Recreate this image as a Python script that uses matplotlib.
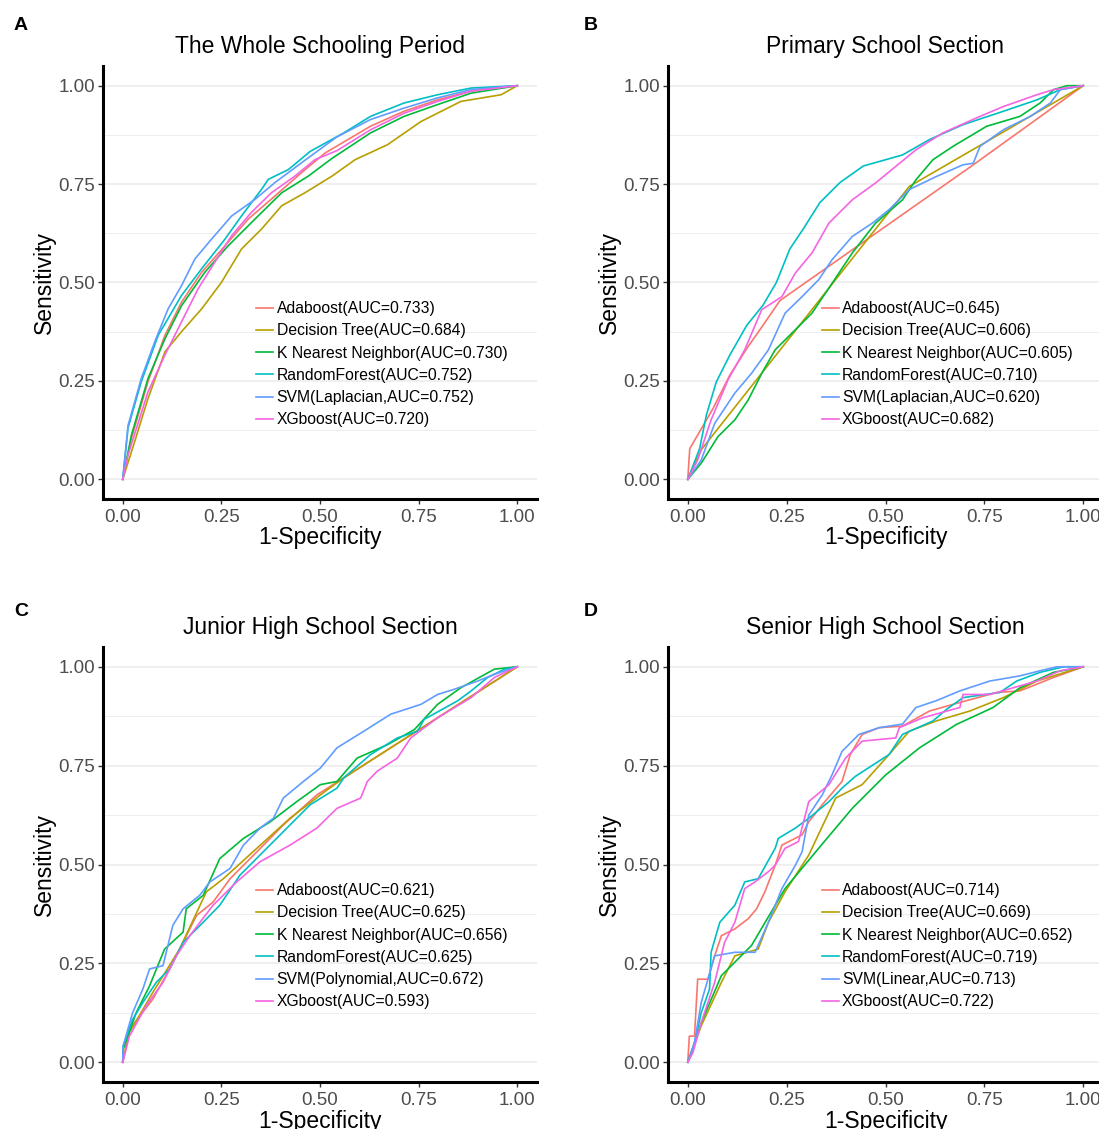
import matplotlib
matplotlib.use("Agg")
import matplotlib.pyplot as plt
import numpy as np

plt.rcParams['font.family'] = ['Liberation Sans', 'DejaVu Sans']

colors = ["#F8766D", "#B79F00", "#00BA38", "#00BFC4", "#619CFF", "#F564E3"]

# ---- panel A : whole schooling period ----
A_labels = ["Adaboost(AUC=0.733)", "Decision Tree(AUC=0.684)", "K Nearest Neighbor(AUC=0.730)",
            "RandomForest(AUC=0.752)", "SVM(Laplacian,AUC=0.752)", "XGboost(AUC=0.720)"]
A_ada_x = [0, 0.022, 0.064, 0.107, 0.149, 0.200, 0.259, 0.318, 0.386, 0.453, 0.513, 0.628, 0.713, 0.798, 0.883, 1]
A_ada_y = [0, 0.104, 0.248, 0.366, 0.450, 0.526, 0.593, 0.661, 0.720, 0.779, 0.829, 0.897, 0.935, 0.964, 0.986, 1]
A_dt_x = [0, 0.030, 0.064, 0.107, 0.149, 0.200, 0.250, 0.301, 0.352, 0.403, 0.462, 0.530, 0.589, 0.671, 0.756,
          0.857, 0.959, 1]
A_dt_y = [0, 0.095, 0.205, 0.324, 0.375, 0.433, 0.500, 0.585, 0.636, 0.695, 0.728, 0.770, 0.812, 0.850, 0.909,
          0.960, 0.977, 1]
A_knn_x = [0, 0.022, 0.064, 0.107, 0.149, 0.208, 0.267, 0.335, 0.403, 0.470, 0.530, 0.628, 0.713, 0.798, 0.883, 1]
A_knn_y = [0, 0.112, 0.256, 0.357, 0.441, 0.526, 0.593, 0.661, 0.728, 0.770, 0.815, 0.880, 0.922, 0.952, 0.981, 1]
A_rf_x = [0, 0.0135, 0.047, 0.090, 0.149, 0.200, 0.259, 0.301, 0.352, 0.369, 0.420, 0.475, 0.560, 0.628, 0.713,
          0.798, 0.883, 1]
A_rf_y = [0, 0.131, 0.248, 0.366, 0.467, 0.535, 0.610, 0.669, 0.737, 0.762, 0.787, 0.833, 0.880, 0.922, 0.956,
          0.977, 0.994, 1]
A_svm_x = [0, 0.0135, 0.047, 0.081, 0.115, 0.149, 0.183, 0.225, 0.276, 0.335, 0.386, 0.453, 0.543, 0.628, 0.713,
           0.798, 0.883, 1]
A_svm_y = [0, 0.137, 0.256, 0.349, 0.433, 0.492, 0.560, 0.610, 0.669, 0.711, 0.754, 0.804, 0.870, 0.914, 0.943,
           0.969, 0.990, 1]
A_xgb_x = [0, 0.0135, 0.064, 0.107, 0.149, 0.191, 0.233, 0.276, 0.326, 0.377, 0.436, 0.487, 0.543, 0.628, 0.713,
           0.798, 0.883, 1]
A_xgb_y = [0, 0.062, 0.222, 0.316, 0.400, 0.484, 0.551, 0.619, 0.678, 0.728, 0.770, 0.812, 0.835, 0.888, 0.930,
           0.960, 0.986, 1]

# ---- panel B : primary school ----
B_labels = ["Adaboost(AUC=0.645)", "Decision Tree(AUC=0.606)", "K Nearest Neighbor(AUC=0.605)",
            "RandomForest(AUC=0.710)", "SVM(Laplacian,AUC=0.620)", "XGboost(AUC=0.682)"]
B_ada_x = [0, 0.005, 0.030, 0.064, 0.106, 0.149, 0.190, 0.233, 0.722, 1]
B_ada_y = [0, 0.078, 0.121, 0.180, 0.264, 0.332, 0.391, 0.454, 0.799, 1]
B_dt_x = [0, 0.034, 0.560, 1]
B_dt_y = [0, 0.075, 0.744, 1]
B_knn_x = [0, 0.034, 0.076, 0.119, 0.153, 0.187, 0.221, 0.263, 0.314, 0.365, 0.416, 0.475, 0.543, 0.577, 0.620,
           0.671, 0.756, 0.840, 0.891, 0.925, 0.959, 1]
B_knn_y = [0, 0.041, 0.108, 0.151, 0.202, 0.269, 0.329, 0.371, 0.422, 0.498, 0.575, 0.651, 0.710, 0.761, 0.812,
           0.846, 0.897, 0.922, 0.956, 0.990, 1, 1]
B_rf_x = [0, 0.030, 0.047, 0.072, 0.106, 0.149, 0.190, 0.224, 0.258, 0.292, 0.334, 0.385, 0.444, 0.543, 0.611,
          0.696, 0.798, 0.883, 0.942, 1]
B_rf_y = [0, 0.078, 0.163, 0.247, 0.315, 0.391, 0.442, 0.500, 0.585, 0.636, 0.703, 0.754, 0.796, 0.824, 0.863,
          0.901, 0.935, 0.964, 0.990, 1]
B_svm_x = [0, 0.034, 0.068, 0.119, 0.161, 0.204, 0.246, 0.289, 0.331, 0.365, 0.416, 0.467, 0.509, 0.560, 0.628,
           0.696, 0.722, 0.739, 0.798, 0.866, 0.917, 0.942, 1]
B_svm_y = [0, 0.049, 0.142, 0.219, 0.269, 0.329, 0.422, 0.464, 0.507, 0.558, 0.617, 0.651, 0.685, 0.736, 0.769,
           0.799, 0.803, 0.846, 0.888, 0.922, 0.956, 0.990, 1]
B_xgb_x = [0, 0.025, 0.059, 0.102, 0.144, 0.187, 0.238, 0.272, 0.314, 0.357, 0.416, 0.475, 0.526, 0.577, 0.645,
           0.730, 0.798, 0.883, 0.925, 1]
B_xgb_y = [0, 0.049, 0.151, 0.253, 0.329, 0.431, 0.464, 0.524, 0.575, 0.651, 0.710, 0.753, 0.795, 0.837, 0.880,
           0.918, 0.947, 0.977, 0.990, 1]

# ---- panel C : junior high school ----
C_labels = ["Adaboost(AUC=0.621)", "Decision Tree(AUC=0.625)", "K Nearest Neighbor(AUC=0.656)",
            "RandomForest(AUC=0.625)", "SVM(Polynomial,AUC=0.672)", "XGboost(AUC=0.593)"]
C_ada_x = [0, 0.017, 0.076, 0.119, 0.187, 0.229, 0.272, 0.340, 0.407, 0.492, 0.560, 1]
C_ada_y = [0, 0.083, 0.159, 0.236, 0.371, 0.405, 0.464, 0.532, 0.600, 0.676, 0.719, 1]
C_dt_x = [0, 0.017, 0.076, 0.144, 0.212, 0.255, 0.340, 0.424, 0.501, 0.560, 1]
C_dt_y = [0, 0.075, 0.176, 0.286, 0.431, 0.464, 0.541, 0.617, 0.676, 0.719, 1]
C_knn_x = [0, 0.001, 0.034, 0.068, 0.106, 0.153, 0.161, 0.204, 0.246, 0.306, 0.374, 0.441, 0.501, 0.543, 0.594,
           0.671, 0.739, 0.798, 0.857, 0.942, 1]
C_knn_y = [0, 0.032, 0.125, 0.193, 0.286, 0.329, 0.388, 0.422, 0.515, 0.566, 0.608, 0.659, 0.702, 0.710, 0.769,
           0.803, 0.841, 0.905, 0.947, 0.994, 1]
C_rf_x = [0, 0.001, 0.025, 0.051, 0.085, 0.119, 0.153, 0.204, 0.246, 0.297, 0.348, 0.416, 0.475, 0.543, 0.560,
          0.628, 0.696, 0.747, 0.764, 0.849, 0.883, 0.925, 0.968, 1]
C_rf_y = [0, 0.041, 0.108, 0.151, 0.202, 0.236, 0.303, 0.354, 0.397, 0.473, 0.524, 0.592, 0.651, 0.693, 0.719,
          0.778, 0.820, 0.837, 0.867, 0.914, 0.939, 0.973, 0.994, 1]
C_svm_x = [0, 0.001, 0.025, 0.051, 0.068, 0.102, 0.127, 0.153, 0.195, 0.221, 0.272, 0.306, 0.348, 0.382, 0.407,
           0.458, 0.501, 0.543, 0.611, 0.679, 0.756, 0.798, 0.840, 0.900, 0.942, 1]
C_svm_y = [0, 0.041, 0.125, 0.185, 0.236, 0.244, 0.346, 0.388, 0.422, 0.456, 0.490, 0.549, 0.592, 0.617, 0.668,
           0.710, 0.744, 0.795, 0.837, 0.880, 0.905, 0.930, 0.943, 0.964, 0.981, 1]
C_xgb_x = [0, 0.017, 0.059, 0.102, 0.136, 0.170, 0.229, 0.289, 0.348, 0.424, 0.492, 0.543, 0.603, 0.620, 0.645,
           0.696, 0.730, 0.798, 0.883, 0.942, 1]
C_xgb_y = [0, 0.066, 0.142, 0.202, 0.269, 0.320, 0.397, 0.456, 0.507, 0.549, 0.592, 0.642, 0.668, 0.710, 0.736,
           0.769, 0.820, 0.871, 0.922, 0.973, 1]

# ---- panel D : senior high school ----
D_labels = ["Adaboost(AUC=0.714)", "Decision Tree(AUC=0.669)", "K Nearest Neighbor(AUC=0.652)",
            "RandomForest(AUC=0.719)", "SVM(Linear,AUC=0.713)", "XGboost(AUC=0.722)"]
D_ada_x = [0, 0.004, 0.017, 0.025, 0.051, 0.068, 0.085, 0.119, 0.153, 0.174, 0.195, 0.221, 0.238, 0.289, 0.306,
           0.340, 0.390, 0.411, 0.441, 0.484, 0.543, 0.611, 0.671, 0.781, 0.840, 0.925, 1]
D_ada_y = [0, 0.066, 0.066, 0.210, 0.210, 0.269, 0.320, 0.337, 0.363, 0.388, 0.431, 0.498, 0.549, 0.575, 0.608,
           0.651, 0.710, 0.778, 0.829, 0.846, 0.850, 0.888, 0.905, 0.935, 0.939, 0.973, 1]
D_dt_x = [0, 0.034, 0.085, 0.119, 0.178, 0.204, 0.246, 0.306, 0.374, 0.441, 0.501, 0.560, 0.628, 0.713, 0.798,
          0.883, 1]
D_dt_y = [0, 0.092, 0.202, 0.269, 0.286, 0.354, 0.431, 0.524, 0.668, 0.702, 0.769, 0.837, 0.863, 0.888, 0.922,
          0.964, 1]
D_knn_x = [0, 0.034, 0.085, 0.161, 0.246, 0.331, 0.416, 0.501, 0.586, 0.679, 0.772, 0.840, 0.925, 1]
D_knn_y = [0, 0.100, 0.219, 0.295, 0.439, 0.541, 0.642, 0.727, 0.795, 0.854, 0.897, 0.947, 0.986, 1]
D_rf_x = [0, 0.013, 0.034, 0.055, 0.059, 0.081, 0.119, 0.144, 0.178, 0.221, 0.229, 0.272, 0.306, 0.357, 0.390,
          0.424, 0.509, 0.543, 0.620, 0.654, 0.696, 0.789, 0.832, 0.891, 0.951, 1]
D_rf_y = [0, 0.032, 0.125, 0.185, 0.278, 0.354, 0.397, 0.456, 0.464, 0.541, 0.566, 0.592, 0.617, 0.659, 0.693,
          0.723, 0.778, 0.829, 0.863, 0.892, 0.922, 0.935, 0.964, 0.986, 1, 1]
D_svm_x = [0, 0.017, 0.034, 0.068, 0.119, 0.170, 0.204, 0.238, 0.272, 0.289, 0.306, 0.340, 0.365, 0.390, 0.433,
           0.484, 0.543, 0.577, 0.628, 0.688, 0.764, 0.840, 0.891, 0.934, 1]
D_svm_y = [0, 0.049, 0.151, 0.269, 0.278, 0.278, 0.354, 0.439, 0.498, 0.532, 0.625, 0.676, 0.727, 0.786, 0.829,
           0.846, 0.855, 0.897, 0.914, 0.939, 0.964, 0.977, 0.990, 1, 1]
D_xgb_x = [0, 0.013, 0.034, 0.068, 0.093, 0.119, 0.144, 0.170, 0.204, 0.221, 0.246, 0.280, 0.306, 0.357, 0.399,
           0.441, 0.526, 0.535, 0.594, 0.688, 0.696, 0.764, 0.883, 0.942, 1]
D_xgb_y = [0, 0.024, 0.100, 0.202, 0.303, 0.354, 0.439, 0.456, 0.482, 0.498, 0.541, 0.558, 0.659, 0.702, 0.769,
           0.812, 0.820, 0.846, 0.871, 0.897, 0.930, 0.930, 0.964, 0.990, 1]

panels = [
    ("A", "The Whole Schooling Period", A_labels,
     [(A_ada_x, A_ada_y), (A_dt_x, A_dt_y), (A_knn_x, A_knn_y), (A_rf_x, A_rf_y), (A_svm_x, A_svm_y), (A_xgb_x, A_xgb_y)]),
    ("B", "Primary School Section", B_labels,
     [(B_ada_x, B_ada_y), (B_dt_x, B_dt_y), (B_knn_x, B_knn_y), (B_rf_x, B_rf_y), (B_svm_x, B_svm_y), (B_xgb_x, B_xgb_y)]),
    ("C", "Junior High School Section", C_labels,
     [(C_ada_x, C_ada_y), (C_dt_x, C_dt_y), (C_knn_x, C_knn_y), (C_rf_x, C_rf_y), (C_svm_x, C_svm_y), (C_xgb_x, C_xgb_y)]),
    ("D", "Senior High School Section", D_labels,
     [(D_ada_x, D_ada_y), (D_dt_x, D_dt_y), (D_knn_x, D_knn_y), (D_rf_x, D_rf_y), (D_svm_x, D_svm_y), (D_xgb_x, D_xgb_y)]),
]

W, H = 1099, 1129
fig = plt.figure(figsize=(W / 100, H / 100), dpi=100)

# axes boxes in pixels: left, top, right, bottom
boxes = [(103, 66, 537, 499), (668, 66, 1103, 499), (103, 647, 537, 1082), (668, 647, 1103, 1082)]
letter_pos = [(21, 25), (591, 25), (21, 612), (591, 612)]

ticks = [0, 0.25, 0.5, 0.75, 1.0]
ticklabels = ["0.00", "0.25", "0.50", "0.75", "1.00"]

for (letter, title, labels, curves), (l, t, r, b), (lx, ly) in zip(panels, boxes, letter_pos):
    ax = fig.add_axes([l / W, 1 - b / H, (r - l) / W, (b - t) / H])
    for yy in [0.125, 0.375, 0.625, 0.875]:
        ax.axhline(yy, color="#EBEBEB", lw=0.6, zorder=0)
    for yy in ticks:
        ax.axhline(yy, color="#EBEBEB", lw=1.1, zorder=0)
    for (cx, cy), c, lab in zip(curves, colors, labels):
        ax.plot(cx, cy, color=c, lw=1.2, label=lab)
    ax.set_xlim(-0.05, 1.05)
    ax.set_ylim(-0.05, 1.05)
    ax.set_xticks(ticks)
    ax.set_xticklabels(ticklabels)
    ax.set_yticks(ticks)
    ax.set_yticklabels(ticklabels)
    ax.tick_params(labelsize=13.5, labelcolor="#4D4D4D", color="#333333", length=3.5, width=1, pad=2)
    ax.tick_params(axis="x", pad=4)
    for s in ["top", "right"]:
        ax.spines[s].set_visible(False)
    for s in ["left", "bottom"]:
        ax.spines[s].set_linewidth(2.2)
        ax.spines[s].set_color("black")
    ax.set_xlabel("1-Specificity", fontsize=16.5)
    ax.set_ylabel("Sensitivity", fontsize=16.5)
    ax.xaxis.set_label_coords(0.5, -0.09)
    ax.yaxis.set_label_coords(-0.134, 0.5)
    ax.xaxis.label.set_va("center")
    ax.yaxis.label.set_va("center")
    ax.text(0.5, 1.044, title, transform=ax.transAxes, ha="center", va="center", fontsize=16.5)
    ax.legend(loc="upper left", bbox_to_anchor=(0.353, 0.457), frameon=False, fontsize=11.3,
              borderpad=0, borderaxespad=0, handlelength=1.1, handletextpad=0.2, labelspacing=0.46)
    fig.text(lx / W, 1 - ly / H, letter, fontsize=14, fontweight="bold", ha="center", va="center")

fig.savefig("out.png", dpi=100)
